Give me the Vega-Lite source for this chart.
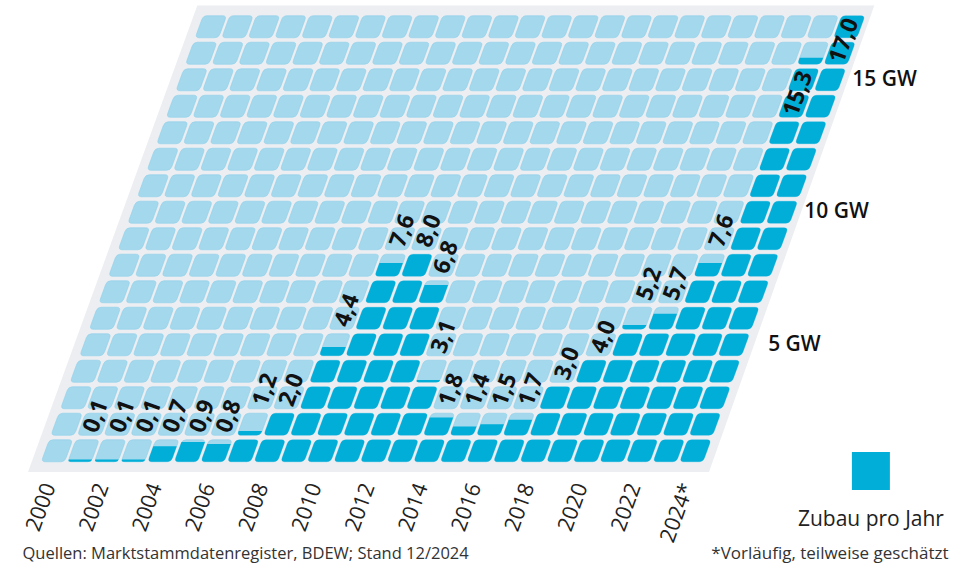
{
  "$schema": "https://vega.github.io/schema/vega-lite/v6.json",
  "autosize": {"type": "none"},
  "width": 665,
  "height": 450.5,
  "padding": {"left": 38.9, "top": 13.5, "right": 250.1, "bottom": 102},
  "background": "#ffffff",
  "config": {"view": {"stroke": null}, "font": "Open Sans"},
  "datasets": {
    "zubau": [
      {"jahr": 2000, "gw": 0.04}, {"jahr": 2001, "gw": 0.1}, {"jahr": 2002, "gw": 0.1},
      {"jahr": 2003, "gw": 0.1}, {"jahr": 2004, "gw": 0.7}, {"jahr": 2005, "gw": 0.9},
      {"jahr": 2006, "gw": 0.8}, {"jahr": 2007, "gw": 1.2}, {"jahr": 2008, "gw": 2.0},
      {"jahr": 2009, "gw": 4.4}, {"jahr": 2010, "gw": 7.6}, {"jahr": 2011, "gw": 8.0},
      {"jahr": 2012, "gw": 6.8}, {"jahr": 2013, "gw": 3.1}, {"jahr": 2014, "gw": 1.8},
      {"jahr": 2015, "gw": 1.4}, {"jahr": 2016, "gw": 1.5}, {"jahr": 2017, "gw": 1.7},
      {"jahr": 2018, "gw": 3.0}, {"jahr": 2019, "gw": 4.0}, {"jahr": 2020, "gw": 5.2},
      {"jahr": 2021, "gw": 5.7}, {"jahr": 2022, "gw": 7.6}, {"jahr": 2023, "gw": 15.3},
      {"jahr": 2024, "gw": 17.0}
    ],
    "raster": [
      {"stufe": 1, "jahre": [2000,2001,2002,2003,2004,2005,2006,2007,2008,2009,2010,2011,2012,2013,2014,2015,2016,2017,2018,2019,2020,2021,2022,2023,2024]},
      {"stufe": 2, "jahre": [2000,2001,2002,2003,2004,2005,2006,2007,2008,2009,2010,2011,2012,2013,2014,2015,2016,2017,2018,2019,2020,2021,2022,2023,2024]},
      {"stufe": 3, "jahre": [2000,2001,2002,2003,2004,2005,2006,2007,2008,2009,2010,2011,2012,2013,2014,2015,2016,2017,2018,2019,2020,2021,2022,2023,2024]},
      {"stufe": 4, "jahre": [2000,2001,2002,2003,2004,2005,2006,2007,2008,2009,2010,2011,2012,2013,2014,2015,2016,2017,2018,2019,2020,2021,2022,2023,2024]},
      {"stufe": 5, "jahre": [2000,2001,2002,2003,2004,2005,2006,2007,2008,2009,2010,2011,2012,2013,2014,2015,2016,2017,2018,2019,2020,2021,2022,2023,2024]},
      {"stufe": 6, "jahre": [2000,2001,2002,2003,2004,2005,2006,2007,2008,2009,2010,2011,2012,2013,2014,2015,2016,2017,2018,2019,2020,2021,2022,2023,2024]},
      {"stufe": 7, "jahre": [2000,2001,2002,2003,2004,2005,2006,2007,2008,2009,2010,2011,2012,2013,2014,2015,2016,2017,2018,2019,2020,2021,2022,2023,2024]},
      {"stufe": 8, "jahre": [2000,2001,2002,2003,2004,2005,2006,2007,2008,2009,2010,2011,2012,2013,2014,2015,2016,2017,2018,2019,2020,2021,2022,2023,2024]},
      {"stufe": 9, "jahre": [2000,2001,2002,2003,2004,2005,2006,2007,2008,2009,2010,2011,2012,2013,2014,2015,2016,2017,2018,2019,2020,2021,2022,2023,2024]},
      {"stufe": 10, "jahre": [2000,2001,2002,2003,2004,2005,2006,2007,2008,2009,2010,2011,2012,2013,2014,2015,2016,2017,2018,2019,2020,2021,2022,2023,2024]},
      {"stufe": 11, "jahre": [2000,2001,2002,2003,2004,2005,2006,2007,2008,2009,2010,2011,2012,2013,2014,2015,2016,2017,2018,2019,2020,2021,2022,2023,2024]},
      {"stufe": 12, "jahre": [2000,2001,2002,2003,2004,2005,2006,2007,2008,2009,2010,2011,2012,2013,2014,2015,2016,2017,2018,2019,2020,2021,2022,2023,2024]},
      {"stufe": 13, "jahre": [2000,2001,2002,2003,2004,2005,2006,2007,2008,2009,2010,2011,2012,2013,2014,2015,2016,2017,2018,2019,2020,2021,2022,2023,2024]},
      {"stufe": 14, "jahre": [2000,2001,2002,2003,2004,2005,2006,2007,2008,2009,2010,2011,2012,2013,2014,2015,2016,2017,2018,2019,2020,2021,2022,2023,2024]},
      {"stufe": 15, "jahre": [2000,2001,2002,2003,2004,2005,2006,2007,2008,2009,2010,2011,2012,2013,2014,2015,2016,2017,2018,2019,2020,2021,2022,2023,2024]},
      {"stufe": 16, "jahre": [2000,2001,2002,2003,2004,2005,2006,2007,2008,2009,2010,2011,2012,2013,2014,2015,2016,2017,2018,2019,2020,2021,2022,2023,2024]},
      {"stufe": 17, "jahre": [2000,2001,2002,2003,2004,2005,2006,2007,2008,2009,2010,2011,2012,2013,2014,2015,2016,2017,2018,2019,2020,2021,2022,2023,2024]}
    ],
    "marken": [
      {"gw": 5, "text": "5 GW"},
      {"gw": 10, "text": "10 GW"},
      {"gw": 15, "text": "15 GW"}
    ],
    "flaeche": [{"name": "Hintergrund"}]
  },
  "layer": [
    {
      "data": {"name": "flaeche"},
      "mark": {"type": "point", "filled": true, "opacity": 1, "size": 4, "color": "#eceef2", "strokeWidth": 0,
        "shape": "M-425.15,233.25L255.85,233.25L421.15,-233.25L-255.85,-233.25Z"},
      "encoding": {
        "x": {"datum": 2012, "type": "ordinal",
          "scale": {"type": "band", "paddingInner": 0, "paddingOuter": 0},
          "axis": {
            "values": [2000, 2002, 2004, 2006, 2008, 2010, 2012, 2014, 2016, 2018, 2020, 2022, 2024],
            "labelExpr": "datum.value == 2024 ? '2024*' : datum.label",
            "labelAngle": -70, "labelAlign": "right", "labelBaseline": "middle",
            "labelPadding": 20, "labelOffset": -2, "labelOverlap": false,
            "labelFontSize": 21.5, "labelColor": "#222222", "labelFont": "Open Sans",
            "ticks": false, "domain": false, "grid": false,
            "title": "*Vorläufig, teilweise geschätzt",
            "titleX": 909.1, "titleY": 94.6, "titleAlign": "right", "titleBaseline": "alphabetic",
            "titleFontSize": 17, "titleFontWeight": "normal", "titleColor": "#333333", "titleFont": "Open Sans"
          }},
        "y": {"datum": 8.5, "type": "quantitative",
          "scale": {"domain": [0, 17], "nice": false, "zero": false},
          "axis": {
            "labels": false, "ticks": false, "domain": false, "grid": false,
            "title": "Quellen: Marktstammdatenregister, BDEW; Stand 12/2024",
            "titleAngle": 0, "titleX": -16.9, "titleY": 545, "titleAlign": "left", "titleBaseline": "alphabetic",
            "titleFontSize": 16.5, "titleFontWeight": "normal", "titleColor": "#333333", "titleFont": "Open Sans"
          }},
        "xOffset": {"datum": 8.5, "type": "quantitative", "scale": {"domain": [0, 17], "range": [13.3, 176.8]}}
      }
    },
    {
      "data": {"name": "raster"},
      "transform": [{"flatten": ["jahre"], "as": ["jahr"]}],
      "mark": {"type": "point", "filled": true, "opacity": 1, "size": 4, "color": "#a3d8ed", "stroke": "#8fd0ea", "strokeWidth": 0.6,
        "shape": "M-8.5,2.2L6.9,2.2Q10.9,2.2,9.45,6.2L4.33,20.3Q2.88,24.3,-1.12,24.3L-16.52,24.3Q-20.52,24.3,-19.07,20.3L-13.95,6.2Q-12.5,2.2,-8.5,2.2Z"},
      "encoding": {
        "x": {"field": "jahr", "type": "ordinal"},
        "y": {"field": "stufe", "type": "quantitative"},
        "xOffset": {"field": "stufe", "type": "quantitative"}
      }
    },
    {
      "data": {"name": "raster"},
      "transform": [
        {"flatten": ["jahre"], "as": ["jahr"]},
        {"lookup": "jahr", "from": {"data": {"name": "zubau"}, "key": "jahr", "fields": ["gw"]}},
        {"calculate": "round(clamp(datum.gw - datum.stufe + 1, 0, 1) * 10)", "as": "anteil"},
        {"filter": "datum.anteil > 0"}
      ],
      "mark": {"type": "point", "filled": true, "opacity": 1, "size": 4, "strokeWidth": 0},
      "encoding": {
        "x": {"field": "jahr", "type": "ordinal"},
        "y": {"field": "stufe", "type": "quantitative"},
        "xOffset": {"field": "stufe", "type": "quantitative"},
        "color": {"datum": "Zubau pro Jahr", "type": "nominal",
          "scale": {"range": ["#00aed8"]},
          "legend": {
            "orient": "none", "legendX": 759, "legendY": 438.5, "padding": 0,
            "symbolType": "square", "symbolSize": 1444, "symbolStrokeWidth": 0, "symbolOpacity": 1,
            "labelExpr": "''", "labelOffset": 0, "labelFontSize": 1,
            "title": "Zubau pro Jahr", "titleOrient": "bottom", "titleAnchor": "middle", "titlePadding": 19,
            "titleLimit": 300,
            "titleFontSize": 21, "titleFontWeight": "normal", "titleColor": "#222222", "titleFont": "Open Sans"
          }},
        "shape": {"field": "anteil", "type": "ordinal", "legend": null,
          "scale": {"domain": [1, 2, 3, 4, 5, 6, 7, 8, 9, 10],
            "range": [
              "M-19.72,22.09L3.68,22.09Q2.88,24.3,0.67,24.3L-18.31,24.3Q-20.52,24.3,-19.72,22.09Z",
              "M-18.92,19.88L4.48,19.88L4.33,20.3Q2.88,24.3,-1.12,24.3L-16.52,24.3Q-20.52,24.3,-19.07,20.3Z",
              "M-18.11,17.67L5.29,17.67L4.33,20.3Q2.88,24.3,-1.12,24.3L-16.52,24.3Q-20.52,24.3,-19.07,20.3Z",
              "M-17.31,15.46L6.09,15.46L4.33,20.3Q2.88,24.3,-1.12,24.3L-16.52,24.3Q-20.52,24.3,-19.07,20.3Z",
              "M-16.51,13.25L6.89,13.25L4.33,20.3Q2.88,24.3,-1.12,24.3L-16.52,24.3Q-20.52,24.3,-19.07,20.3Z",
              "M-15.71,11.04L7.69,11.04L4.33,20.3Q2.88,24.3,-1.12,24.3L-16.52,24.3Q-20.52,24.3,-19.07,20.3Z",
              "M-14.91,8.83L8.5,8.83L4.33,20.3Q2.88,24.3,-1.12,24.3L-16.52,24.3Q-20.52,24.3,-19.07,20.3Z",
              "M-14.1,6.62L9.3,6.62L4.33,20.3Q2.88,24.3,-1.12,24.3L-16.52,24.3Q-20.52,24.3,-19.07,20.3Z",
              "M-13.3,4.41L10.1,4.41L4.33,20.3Q2.88,24.3,-1.12,24.3L-16.52,24.3Q-20.52,24.3,-19.07,20.3Z",
              "M-8.5,2.2L6.9,2.2Q10.9,2.2,9.45,6.2L4.33,20.3Q2.88,24.3,-1.12,24.3L-16.52,24.3Q-20.52,24.3,-19.07,20.3L-13.95,6.2Q-12.5,2.2,-8.5,2.2Z"
            ]}}
      }
    },
    {
      "data": {"name": "zubau"},
      "transform": [
        {"filter": "datum.gw >= 0.05 && datum.gw < 10"},
        {"calculate": "ceil(datum.gw)", "as": "oben"},
        {"calculate": "replace(format(datum.gw, '.1f'), '.', ',')", "as": "beschriftung"}
      ],
      "mark": {"type": "text", "angle": -70, "align": "left", "baseline": "middle", "dx": 6,
        "fontSize": 23, "fontWeight": "bold", "color": "#111111", "font": "Open Sans"},
      "encoding": {
        "x": {"field": "jahr", "type": "ordinal"},
        "y": {"field": "oben", "type": "quantitative"},
        "xOffset": {"field": "oben", "type": "quantitative"},
        "text": {"field": "beschriftung"}
      }
    },
    {
      "data": {"name": "zubau"},
      "transform": [
        {"filter": "datum.gw >= 10"},
        {"calculate": "floor(datum.gw)", "as": "unten"},
        {"calculate": "replace(format(datum.gw, '.1f'), '.', ',')", "as": "beschriftung"}
      ],
      "mark": {"type": "text", "angle": -70, "align": "right", "baseline": "middle", "dx": -6,
        "fontSize": 23, "fontWeight": "bold", "color": "#111111", "font": "Open Sans"},
      "encoding": {
        "x": {"field": "jahr", "type": "ordinal"},
        "y": {"field": "unten", "type": "quantitative"},
        "xOffset": {"field": "unten", "type": "quantitative"},
        "text": {"field": "beschriftung"}
      }
    },
    {
      "data": {"name": "marken"},
      "mark": {"type": "text", "align": "right", "baseline": "middle", "dx": 82, "dy": 13.25,
        "fontSize": 21, "fontWeight": 600, "color": "#111111", "font": "Open Sans"},
      "encoding": {
        "x": {"datum": 2024, "type": "ordinal"},
        "y": {"field": "gw", "type": "quantitative"},
        "xOffset": {"field": "gw", "type": "quantitative"},
        "text": {"field": "text"}
      }
    }
  ]
}
